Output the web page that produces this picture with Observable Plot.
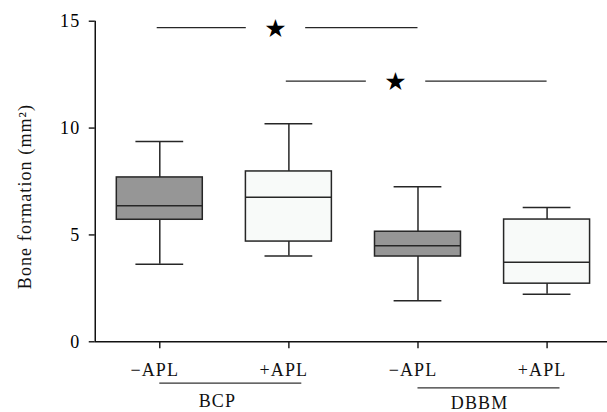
<!DOCTYPE html>
<html>
<head>
<meta charset="utf-8">
<script src="https://cdn.jsdelivr.net/npm/d3@7"></script>
<script src="https://cdn.jsdelivr.net/npm/@observablehq/plot@0.6"></script>
<style>
  html, body { margin: 0; padding: 0; background: #fff; }
  #chart svg { display: block; }
  #chart g[aria-label$="axis"] path, #chart g[aria-label$="tick"] path { stroke-width: 1.3; }
</style>
</head>
<body>
<div id="chart"></div>
<script>
// ---- data ----
const categories = ["\u2212APL", "+APL", "\u2212APL", "+APL"];
const positions = [1, 2, 3, 4];
const treatment = ["-APL", "+APL", "-APL", "+APL"];
const whiskerLow = [3.63, 4.02, 1.92, 2.22];
const q1 = [5.71, 4.69, 3.99, 2.72];
const median = [6.37, 6.76, 4.49, 3.72];
const q3 = [7.69, 7.97, 5.15, 5.72];
const whiskerHigh = [9.37, 10.2, 7.26, 6.28];
const yTicks = [0, 5, 10, 15];
const groupNames = ["BCP", "DBBM"];
const groupFirst = [1, 3];
const groupLast = [2, 4];
const sigFrom = [1, 2];
const sigTo = [3, 4];
const sigLevel = [14.7, 12.2];
const sigStarAt = [1.9, 2.83];
const yTitle = "Bone formation (mm\u00b2)";

// ---- build ----
const boxes = positions.map((p, i) => ({
  pos: p, label: categories[i], treat: treatment[i],
  low: whiskerLow[i], q1: q1[i], med: median[i], q3: q3[i], high: whiskerHigh[i]
}));
const halfBox = 0.333, halfCap = 0.185, gapHalf = 0.23;
const sigSegs = [];
const stars = [];
sigFrom.forEach((f, i) => {
  sigSegs.push({x1: f - 0.02, x2: sigStarAt[i] - gapHalf, y: sigLevel[i]});
  sigSegs.push({x1: sigStarAt[i] + gapHalf, x2: sigTo[i], y: sigLevel[i]});
  stars.push({x: sigStarAt[i], y: sigLevel[i]});
});
const groups = groupNames.map((g, i) => ({name: g, x1: groupFirst[i], x2: groupLast[i] + 0.1, mid: (groupFirst[i] + groupLast[i]) / 2}));
const ink = "#262626";
const fillFor = t => t === "-APL" ? "#969696" : "#f8faf9";

const chart = Plot.plot({
  width: 607,
  height: 412,
  marginLeft: 94.75,
  marginRight: 0,
  marginTop: 20.7,
  marginBottom: 70.7,
  style: {fontFamily: "Liberation Serif", fontSize: "18px", letterSpacing: "1.1px", background: "#fff", color: "#000"},
  x: {type: "linear", domain: [0.5, 4.468], ticks: positions, tickFormat: () => "", tickSize: 7, label: null},
  y: {domain: [0, 15], ticks: yTicks, tickSize: 6, tickPadding: 9, label: null},
  marks: [
    Plot.ruleX(boxes, {x: "pos", y1: "low", y2: "high", stroke: ink, strokeWidth: 1.5}),
    Plot.ruleY(boxes, {y: "low", x1: d => d.pos - halfCap, x2: d => d.pos + halfCap, stroke: ink, strokeWidth: 1.5}),
    Plot.ruleY(boxes, {y: "high", x1: d => d.pos - halfCap, x2: d => d.pos + halfCap, stroke: ink, strokeWidth: 1.5}),
    Plot.rect(boxes, {x1: d => d.pos - halfBox, x2: d => d.pos + halfBox, y1: "q1", y2: "q3", fill: d => fillFor(d.treat), stroke: ink, strokeWidth: 1.5}),
    Plot.ruleY(boxes, {y: "med", x1: d => d.pos - halfBox, x2: d => d.pos + halfBox, stroke: ink, strokeWidth: 1.5}),
    Plot.ruleY(sigSegs, {y: "y", x1: "x1", x2: "x2", stroke: ink, strokeWidth: 1.3}),
    Plot.text(stars, {x: "x", y: "y", text: () => "\u2605", fontFamily: "DejaVu Sans", fontSize: 25, fill: "#000", dy: 1}),
    Plot.ruleY([0], {stroke: "#111", strokeWidth: 1.5}),
    Plot.ruleX([0.5], {y1: 0, y2: 15, stroke: "#111", strokeWidth: 1.5}),
    Plot.text(boxes, {x: "pos", y: () => 0, text: "label", dy: 28, dx: -5, fill: "#111"}),
    Plot.ruleY(groups.slice(0, 1), {y: () => 0, x1: "x1", x2: "x2", dy: 41.4, stroke: "#333", strokeWidth: 1.3}),
    Plot.ruleY(groups.slice(1, 2), {y: () => 0, x1: "x1", x2: "x2", dy: 46, stroke: "#333", strokeWidth: 1.3}),
    Plot.text(groups.slice(0, 1), {x: "mid", y: () => 0, text: "name", dy: 59.5, dx: -7, fill: "#111"}),
    Plot.text(groups.slice(1, 2), {x: "mid", y: () => 0, text: "name", dy: 61, dx: -3, fill: "#111"}),
    Plot.text([yTitle], {frameAnchor: "left", textAnchor: "middle", rotate: -90, text: d => d, dx: -70.5, dy: 15, fill: "#111"})
  ]
});
document.getElementById("chart").appendChild(chart);
</script>
</body>
</html>
